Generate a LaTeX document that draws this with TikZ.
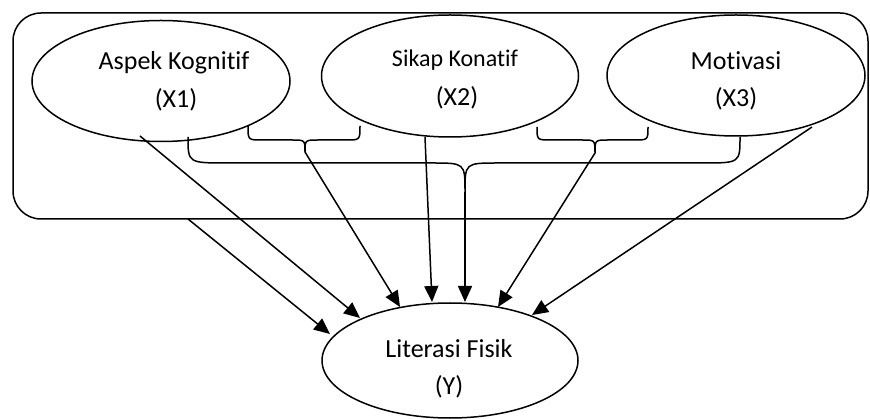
\documentclass[tikz,border=0pt]{standalone}
\usepackage{fontspec}
\setmainfont{Carlito}[Ligatures={NoCommon}]
\usetikzlibrary{arrows.meta,shapes.geometric}
\begin{document}
\begin{tikzpicture}[x=1pt,y=-1pt,line width=1.5pt,
  oval/.style={draw,ellipse,inner sep=0pt,outer sep=0pt},
  big/.style={anchor=base,inner sep=0pt,font=\fontsize{26}{31}\selectfont},
  small/.style={anchor=base,inner sep=0pt,font=\fontsize{24}{29}\selectfont},
  arr/.style={-{Triangle[length=16pt,width=14pt]}},
  brace/.style={line join=round}]
\useasboundingbox (0,0) rectangle (870,419);
% frame
\node[draw,rounded corners=28pt,minimum width=855pt,minimum height=206pt,inner sep=0pt,outer sep=0pt] (box) at (440.5,116) {};
% ellipses
\node[oval,minimum width=258pt,minimum height=121pt] (E1) at (161,81) {};
\node[oval,minimum width=257pt,minimum height=122pt] (E2) at (450,76) {};
\node[oval,minimum width=258pt,minimum height=121pt] (E3) at (736,75.5) {};
\node[oval,minimum width=256pt,minimum height=115pt] (Y) at (450,360.5) {};
% texts
\node[big] (t1a) at (174,70) {Aspek Kognitif};
\node[big] (t1b) at (176,108) {(X1)};
\node[small] (t2a) at (455,67) {Sikap Konatif};
\node[big] (t2b) at (457,106) {(X2)};
\node[big] (t3a) at (736,70) {Motivasi};
\node[big] (t3b) at (736,107) {(X3)};
\node[big] (tya) at (449,358) {Literasi Fisik};
\node[big] (tyb) at (449,395) {(Y)};
% brace 1
\coordinate (b1l) at (248,126);
\coordinate (b1r) at (360,126);
\coordinate (b1t) at (305,152);
\draw[brace] (b1l) .. controls (248,140) .. (262,140) -- (292,140) .. controls (305,140) .. (b1t)
  .. controls (305,140) .. (318,140) -- (346,140) .. controls (360,140) .. (b1r);
% brace 2
\coordinate (b2l) at (537,127);
\coordinate (b2r) at (648,127);
\coordinate (b2t) at (595,153);
\draw[brace] (b2l) .. controls (537,140) .. (551,140) -- (582,140) .. controls (595,140) .. (b2t)
  .. controls (595,140) .. (608,140) -- (634,140) .. controls (648,140) .. (b2r);
% big brace
\coordinate (bbl) at (188,137);
\coordinate (bbr) at (740,137);
\coordinate (bbt) at (465,192);
\draw[brace] (bbl) .. controls (188,163) .. (228,163) -- (432,163) .. controls (465,163) .. (bbt)
  .. controls (465,163) .. (498,163) -- (702,163) .. controls (740,163) .. (bbr);
% arrow ends / starts
\coordinate (s0) at (188,219);
\coordinate (e0) at (330,334);
\coordinate (s1) at (140,136);
\coordinate (e1) at (360,318);
\coordinate (e2) at (400,307);
\coordinate (s3) at (425,137);
\coordinate (e3) at (432,302);
\coordinate (e4) at (465,302);
\coordinate (e5) at (498,307);
\coordinate (s6) at (812,127);
\coordinate (e6) at (532,315);
\draw[arr] (s0) -- (e0);
\draw[arr] (s1) -- (e1);
\draw[arr] (b1t) -- (e2);
\draw[arr] (s3) -- (e3);
\draw[arr] (bbt) -- (e4);
\draw[arr] (b2t) -- (e5);
\draw[arr] (s6) -- (e6);
\end{tikzpicture}
\end{document}
